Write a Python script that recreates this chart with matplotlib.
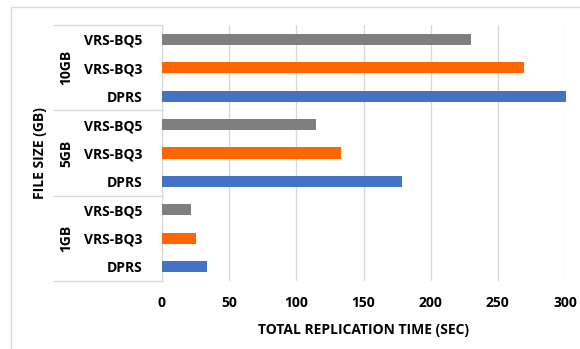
import matplotlib
matplotlib.use("Agg")
import matplotlib.pyplot as plt
from matplotlib.lines import Line2D
from matplotlib.patches import Rectangle
import numpy as np

groups = ["1GB", "5GB", "10GB"]
methods = ["DPRS", "VRS-BQ3", "VRS-BQ5"]
values = {
    "1GB":  [33.7, 25.5, 21.6],
    "5GB":  [178.5, 133.0, 114.7],
    "10GB": [301.0, 269.5, 230.0],
}
colors = ["#4472C4", "#FF6600", "#7F7F7F"]
xticks = [0, 50, 100, 150, 200, 250, 300]
xlabel = "TOTAL REPLICATION TIME (SEC)"
ylabel = "FILE SIZE (GB)"

plt.rcParams['font.family'] = ['Open Sans', 'DejaVu Sans']
FS = 10
W, H = 580, 349
fig = plt.figure(figsize=(W / 100, H / 100), dpi=100)
x0, x1, y0, y1 = 162, 565, 25, 281
ax = fig.add_axes([x0 / W, 1 - y1 / H, (x1 - x0) / W, (y1 - y0) / H])

# outer chart border
fig.patches.append(Rectangle((11 / W, -0.1), 1.2, 1 - 7 / H + 0.1, transform=fig.transFigure,
                             fill=False, edgecolor="#D9D9D9", linewidth=1.0))

labels = []
pos = 0
for g in groups:
    for m, v, c in zip(methods, values[g], colors):
        ax.barh(pos, v, height=0.39, color=c, zorder=3, clip_on=False)
        labels.append(m)
        pos += 1

ax.set_ylim(-0.5, pos - 0.5)
ax.set_xlim(0, 300)
ax.set_xticks(xticks)
ax.set_xticklabels([str(t) for t in xticks], fontsize=FS, fontweight="bold")
ax.set_yticks(np.arange(pos))
ax.set_yticklabels(labels, fontsize=FS, fontweight="bold")
ax.tick_params(axis="y", length=0, pad=14)
ax.tick_params(axis="x", length=0, pad=11)
ax.grid(axis="x", color="#D9D9D9", linewidth=1.0, zorder=0)
for s in ["top", "right", "bottom"]:
    ax.spines[s].set_visible(False)
ax.spines["left"].set_color("#D9D9D9")
ax.set_xlabel(xlabel, fontsize=FS, fontweight="bold", labelpad=9)

# group box lines
bx = (54 - x0) / (x1 - x0)
trans = ax.get_yaxis_transform()
for yb in [-0.5, 2.5, 5.5, 8.5]:
    ax.add_line(Line2D([bx, 0], [yb, yb], transform=trans, color="#D9D9D9",
                       linewidth=1.0, clip_on=False))
gx = (66 - x0) / (x1 - x0)
for i, g in enumerate(groups):
    ax.text(gx, 3 * i + 1, g, transform=trans, rotation=90, ha="center", va="center",
            fontsize=FS, fontweight="bold")

fig.text(40 / W, 1 - 153 / H, ylabel, rotation=90, ha="center", va="center",
         fontsize=FS, fontweight="bold")

fig.savefig("out.png", dpi=100)
